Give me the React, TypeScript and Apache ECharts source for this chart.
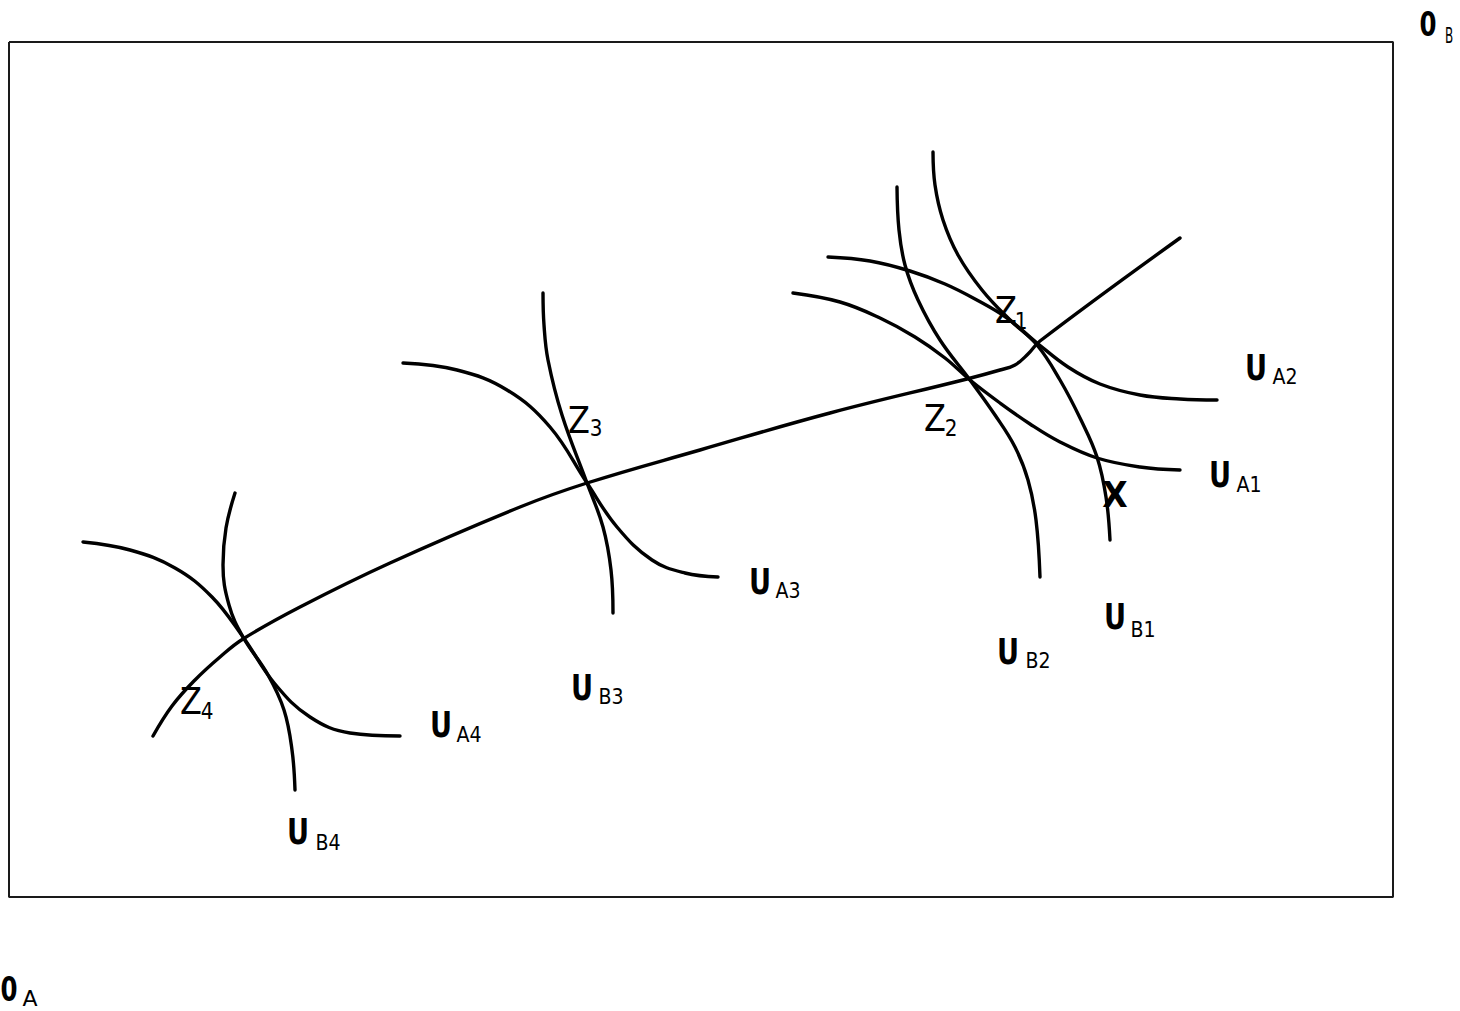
import React, { useEffect, useRef } from "react";
import * as echarts from "echarts";

// Coordinate system: x 0..1460 (left→right), y 0..1011 (top→bottom)
const X_RANGE = [0, 1460];
const Y_RANGE = [0, 1011];

const BOX = [[9, 42], [1393, 42], [1393, 897], [9, 897], [9, 42]];

const CONTRACT = [
  [153, 736], [172, 706], [195, 680], [220, 657], [243, 639], [300, 607], [390, 563], [520, 507], [587, 483],
  [700, 450], [830, 413], [967, 379], [1000, 370], [1015, 365], [1028, 354],
  [1040, 341], [1180, 238],
];

const UA4 = [[83, 542], [130, 550], [175, 568], [212, 597], [243, 637], [275, 684], [310, 717], [350, 733], [400, 736]];
const UB4 = [[235, 493], [226, 528], [223, 565], [229, 605], [243, 637], [268, 675], [284, 710], [292, 750], [295, 790]];
const UA3 = [[403, 363], [457, 370], [507, 390], [550, 427], [587, 483], [617, 527], [652, 560], [685, 573], [718, 577]];
const UB3 = [[543, 293], [544, 325], [548, 360], [562, 415], [587, 483], [603, 527], [611, 570], [613, 613]];
const UA2 = [[828, 257], [870, 261], [910, 271], [945, 284], [975, 299], [1007, 318], [1037, 343], [1068, 367], [1100, 384], [1140, 395], [1180, 399], [1217, 400]];
const UA1 = [[793, 293], [840, 302], [880, 318], [915, 337], [945, 358], [970, 380], [1000, 403], [1030, 424], [1060, 442], [1097, 458], [1140, 467], [1180, 470]];
const UB2 = [[897, 187], [899, 230], [905, 265], [918, 300], [940, 340], [970, 380], [995, 415], [1015, 447], [1028, 480], [1036, 520], [1040, 577]];
const UB1 = [[933, 152], [935, 185], [943, 220], [958, 255], [982, 290], [1010, 320], [1037, 345], [1060, 380], [1081, 420], [1097, 457], [1106, 497], [1110, 540]];

const CURVES = [CONTRACT, UA4, UB4, UA3, UB3, UA2, UA1, UB2, UB1];

// Annotation text: [main, sub]
const U_LABELS = [
  ["U", "A1"], ["U", "A2"], ["U", "B1"], ["U", "B2"],
  ["U", "A3"], ["U", "B3"], ["U", "A4"], ["U", "B4"],
];
const Z_LABELS = [["Z", "1"], ["Z", "2"], ["Z", "3"], ["Z", "4"]];
const ORIGIN_LABELS = [["0", "B"], ["0", "A"]];
const POINT_LABEL = "X";

// Layout (pixel centres) for annotations
const U_POS = [
  [1220, 475, 1249, 485],
  [1256, 368, 1285, 377],
  [1115, 617, 1143, 630],
  [1008, 652, 1038, 661],
  [760, 582, 788, 591],
  [582, 688, 611, 697],
  [441, 725, 469, 735],
  [298, 832, 328, 843],
];
const Z_POS = [
  [1006, 310, 1021, 321],
  [935, 418, 951, 428],
  [579, 420, 596, 428],
  [191, 701, 207, 711],
];
const ORIGIN_POS = [
  [1428, 25, 1449, 36, 0.6],
  [9, 990, 30, 999, 1.1],
];
const X_POS = [1115, 495];

const FONT = '"DejaVu Sans", Verdana, sans-serif';

function txt(text: string, x: number, y: number, fontSize: number, weight: string, sx = 1, sy = 1) {
  return {
    type: "text",
    x,
    y,
    scaleX: sx,
    scaleY: sy,
    silent: true,
    z: 10,
    style: {
      text,
      x: 0,
      y: 0,
      fill: "#000",
      fontSize,
      fontFamily: FONT,
      fontWeight: weight,
      align: "center",
      verticalAlign: "middle",
    },
  };
}

export default function App() {
  const ref = useRef<HTMLDivElement>(null);
  useEffect(() => {
    if (!ref.current) return;
    const chart = echarts.init(ref.current, undefined, { renderer: "svg" });
    const graphics: any[] = [];
    U_LABELS.forEach((l, i) => {
      const p = U_POS[i];
      graphics.push(txt(l[0], p[0], p[1], 34, "bold", 0.8, 1.04));
      graphics.push(txt(l[1], p[2], p[3], 20, "normal", 0.95, 1.08));
    });
    Z_LABELS.forEach((l, i) => {
      const p = Z_POS[i];
      graphics.push(txt(l[0], p[0], p[1], 32, "normal", 1, 1.15));
      graphics.push(txt(l[1], p[2], p[3], 20, "normal", 1, 1.15));
    });
    ORIGIN_LABELS.forEach((l, i) => {
      const p = ORIGIN_POS[i];
      graphics.push(txt(l[0], p[0], p[1], 34, "bold", 0.72, 1));
      graphics.push(txt(l[1], p[2], p[3], 20, "normal", p[4], 1.05));
    });
    graphics.push(txt(POINT_LABEL, X_POS[0], X_POS[1], 33, "bold", 1, 1.05));

    const series: any[] = [
      {
        type: "line",
        data: BOX,
        symbol: "none",
        silent: true,
        clip: false,
        lineStyle: { color: "#1a1a1a", width: 2 },
      },
      ...CURVES.map((c) => ({
        type: "line",
        data: c,
        symbol: "none",
        smooth: 0.4,
        silent: true,
        clip: false,
        lineStyle: { color: "#000", width: 3.4, cap: "round" },
      })),
    ];

    chart.setOption({
      animation: false,
      backgroundColor: "#fff",
      grid: { left: 0, right: 0, top: 0, bottom: 0, containLabel: false },
      xAxis: { type: "value", min: X_RANGE[0], max: X_RANGE[1], show: false },
      yAxis: { type: "value", min: Y_RANGE[0], max: Y_RANGE[1], inverse: true, show: false },
      series,
      graphic: graphics,
    });
    return () => chart.dispose();
  }, []);
  return (
    <div
      ref={ref}
      style={{ position: "fixed", left: 0, top: 0, width: 1460, height: 1011, background: "#fff" }}
    />
  );
}
